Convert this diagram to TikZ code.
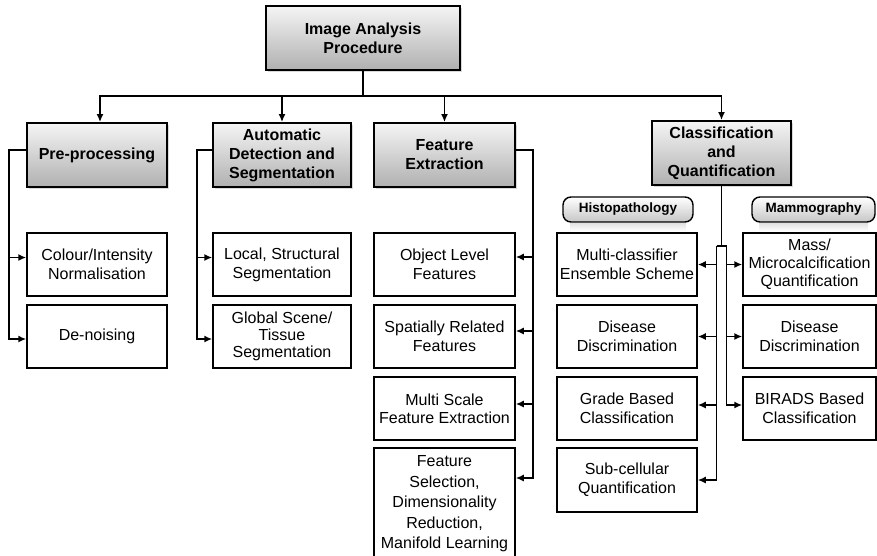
\documentclass[tikz,border=0pt]{standalone}
\usepackage{fontspec}
\setmainfont{Liberation Sans}
\usetikzlibrary{arrows.meta,shadows}

\tikzset{
  head/.style={draw, line width=1.8pt, top color=gray!8, bottom color=gray!62,
    font=\fontsize{16}{19}\selectfont\bfseries, align=center, inner sep=0pt,
    drop shadow={shadow xshift=1.5pt, shadow yshift=-1.5pt, opacity=0.3}},
  leaf/.style={draw, line width=1.5pt, fill=white, align=center, inner sep=0pt,
    font=\fontsize{16}{19}\selectfont, minimum height=63pt},
  tag/.style={draw, line width=1.4pt, rounded corners=8pt, top color=white, bottom color=gray!45,
    font=\fontsize{13.5}{16}\selectfont\bfseries, inner sep=0pt, minimum height=25pt},
  arr/.style={-{Latex[length=8pt,width=7pt]}, line width=1.6pt},
  wire/.style={line width=1.6pt}
}

\begin{document}
\begin{tikzpicture}[x=1pt,y=-1pt]
  \useasboundingbox (0,0) rectangle (877,555);

  % headers
  \node[head, minimum width=194pt, minimum height=64pt] (iap) at (363,38) {Image Analysis\\Procedure};
  \node[head, minimum width=140pt, minimum height=64pt] (pre) at (97,155) {Pre-processing};
  \node[head, minimum width=138pt, minimum height=64pt] (auto) at (282,155) {Automatic\\Detection and\\Segmentation};
  \node[head, minimum width=141pt, minimum height=64pt] (fext) at (444.5,155) {Feature\\Extraction};
  \node[head, minimum width=139pt, minimum height=64pt] (clas) at (721.5,153) {Classification\\and\\Quantification};

  % pre-processing
  \node[leaf, minimum width=140pt] (colour) at (97,264.5) {Colour/Intensity\\Normalisation};
  \node[leaf, minimum width=140pt] (denoise) at (97,336.5) {De-noising};

  % detection and segmentation
  \node[leaf, minimum width=138pt] (local) at (282,264.5) {Local, Structural\\Segmentation};
  \node[leaf, minimum width=138pt, font=\fontsize{16}{17}\selectfont] (global) at (282,336.5) {Global Scene/\\Tissue\\Segmentation};

  % feature extraction
  \node[leaf, minimum width=141pt] (objf) at (444.5,264.5) {Object Level\\Features};
  \node[leaf, minimum width=141pt] (spat) at (444.5,336.5) {Spatially Related\\Features};
  \node[leaf, minimum width=141pt, font=\fontsize{16}{18}\selectfont] (msfe) at (444.5,408.5) {Multi Scale\\Feature Extraction};
  \node[leaf, minimum width=141pt, minimum height=112pt, font=\fontsize{16}{20.5}\selectfont] (fsel) at (444.5,504) {Feature\\Selection,\\Dimensionality\\Reduction,\\Manifold Learning};

  % classification and quantification
  \shade[top color=gray!22, bottom color=white] (570,223.5) rectangle (686,231);
  \shade[top color=gray!22, bottom color=white] (759,223.5) rectangle (868,231);
  \node[tag, minimum width=130pt] (histo) at (628,209.5) {Histopathology};
  \node[tag, minimum width=123pt] (mammo) at (813.5,209.5) {Mammography};

  \node[leaf, minimum width=140pt] (mce) at (627,264.5) {Multi-classifier\\Ensemble Scheme};
  \node[leaf, minimum width=140pt] (hdd) at (627,336.5) {Disease\\Discrimination};
  \node[leaf, minimum width=140pt] (gbc) at (627,408.5) {Grade Based\\Classification};
  \node[leaf, minimum width=140pt, minimum height=64pt] (scq) at (627,480) {Sub-cellular\\Quantification};

  \node[leaf, minimum width=133pt, font=\fontsize{16}{18}\selectfont] (mmq) at (809.5,264.5) {Mass/\\Microcalcification\\Quantification};
  \node[leaf, minimum width=133pt] (mdd) at (809.5,336.5) {Disease\\Discrimination};
  \node[leaf, minimum width=133pt] (bbc) at (809.5,408.5) {BIRADS Based\\Classification};

  % draw edges
  \coordinate (bus) at (363,96);
  \draw[wire] (iap.south) -- (bus);
  \draw[arr] (bus) -| ([xshift=3pt]pre.north);
  \draw[arr] (bus) -| (auto.north);
  \draw[arr] (bus) -| (fext.north);
  \draw[arr] (bus) -| (clas.north);

  \draw[arr] ([yshift=5pt]pre.west) -- ++(-17,0) |- ([yshift=7pt]colour.west);
  \draw[arr] ([yshift=5pt]pre.west) -- ++(-17,0) |- ([yshift=-2.5pt]denoise.west);

  \draw[arr] ([yshift=5pt]auto.west) -- ++(-15,0) |- ([yshift=7pt]local.west);
  \draw[arr] ([yshift=5pt]auto.west) -- ++(-15,0) |- ([yshift=-2.5pt]global.west);

  \draw[arr] ([yshift=5pt]fext.east) -- ++(17,0) |- ([yshift=7.5pt]objf.east);
  \draw[arr] ([yshift=5pt]fext.east) -- ++(17,0) |- ([yshift=5.5pt]spat.east);
  \draw[arr] ([yshift=5pt]fext.east) -- ++(17,0) |- ([yshift=4.5pt]msfe.east);
  \draw[arr] ([yshift=5pt]fext.east) -- ++(17,0) |- ([yshift=26pt]fsel.east);

  \coordinate (split) at (721.5,246);
  \draw[wire] (clas.south) -- (split);
  \draw[wire] ([xshift=-5pt]split) -- ([xshift=5pt]split);
  \draw[arr] ([xshift=-5pt]split) |- (mce.east);
  \draw[arr] ([xshift=-5pt]split) |- (hdd.east);
  \draw[arr] ([xshift=-5pt]split) |- ([yshift=3.5pt]gbc.east);
  \draw[arr] ([xshift=-5pt]split) |- (scq.east);
  \draw[arr] ([xshift=5pt]split) |- (mmq.west);
  \draw[arr] ([xshift=5pt]split) |- (mdd.west);
  \draw[arr] ([xshift=5pt]split) |- ([yshift=3.5pt]bbc.west);
\end{tikzpicture}
\end{document}
